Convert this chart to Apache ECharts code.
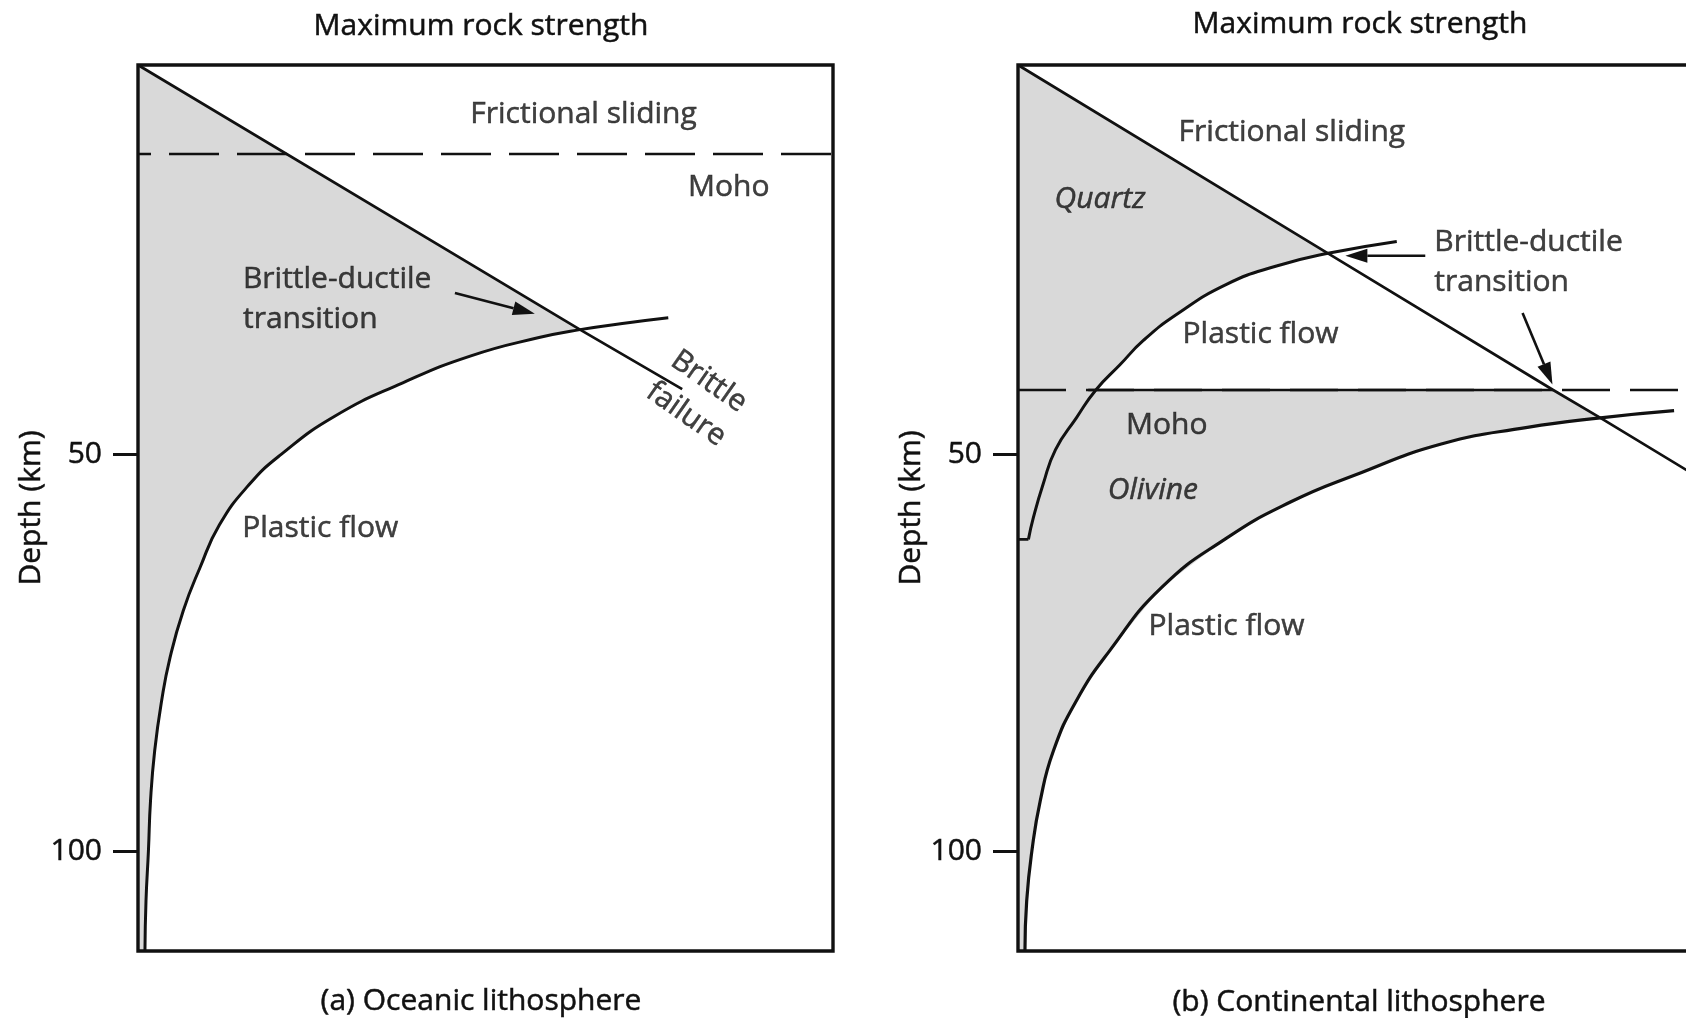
<!DOCTYPE html>
<html>
<head>
<meta charset="utf-8">
<title>Maximum rock strength vs depth</title>
<script src="https://cdn.jsdelivr.net/npm/echarts@6/dist/echarts.min.js"></script>
<style>
  html, body { margin: 0; padding: 0; background: #fff; }
  #chart { width: 1686px; height: 1018px; }
</style>
</head>
<body>
<div id="chart"></div>
<script>
// depth range shown (km) and labelled ticks
const depthTop = 1;
const depthBottom = 112.5;
const depthTicks = [50, 100];

// (a) oceanic lithosphere, points are [relative strength 0-100, depth km]
const oceanBrittle = [[0, 1], [63.6, 34.3], [78.3, 41.8]];
const oceanPlastic = [[76.3, 32.8], [70.8, 33.4], [63.6, 34.3], [57.7, 35.3], [47.9, 37.6], [38.1, 41.0],
  [28.3, 45.2], [20.6, 50.0], [15.9, 53.9], [11.7, 58.9], [8.9, 64.3], [6.5, 69.7], [4.6, 75.6],
  [3.4, 81.0], [2.4, 87.3], [1.8, 93.6], [1.5, 99.9], [1.15, 106.2], [1.0, 112.5]];
const oceanMoho = 12.2;

// (b) continental lithosphere
const contBrittle = [[0, 1], [44.6, 24.7], [77.0, 41.9], [83.8, 45.4], [100, 54.0]];
const contQuartz = [[54.5, 23.2], [44.6, 24.7], [37.2, 26.3], [30.0, 28.6], [22.8, 32.4], [18.0, 35.7],
  [14.7, 38.7], [11.2, 41.9], [8.4, 45.4], [5.4, 49.4], [3.6, 53.8], [2.2, 58.0], [1.5, 60.7]];
const contQuartzFoot = [[1.5, 60.7], [0, 60.7]];
const contOlivine = [[94.4, 44.5], [83.8, 45.4], [73.3, 46.6], [60.9, 48.7], [48.5, 52.6], [39.2, 56.0],
  [29.9, 60.6], [20.6, 66.8], [13.2, 74.7], [8.4, 81.0], [5.1, 87.3], [3.2, 93.6], [2.0, 99.9],
  [1.25, 106.2], [1.0, 112.5]];
const contMoho = 41.9;
const contMohoSolid = [10.1, 77.0];

const FONT = 'Open Sans';
const INK = '#111';
const GRAY = '#d9d9d9';

// shaded (strong) regions, built from the curves above
const oceanBDT = oceanBrittle[1];
const oceanShade = [[0, depthTop], oceanBDT]
  .concat(oceanPlastic.filter(p => p[1] > oceanBDT[1]))
  .concat([[0, depthBottom]]);

const quartzBDT = contBrittle[1], mohoCross = contBrittle[2], olivineBDT = contBrittle[3];
const contShade = [[0, depthTop], quartzBDT]
  .concat(contQuartz.filter(p => p[1] > quartzBDT[1] && p[1] <= contMoho))
  .concat([mohoCross, olivineBDT])
  .concat(contOlivine.filter(p => p[1] > olivineBDT[1]))
  .concat([[0, depthBottom]]);

// annotations (text and arrows)
const oceanText = [
  { value: [64.1, 7.2], text: 'Frictional sliding' },
  { value: [85.0, 16.4], text: 'Moho' },
  { value: [15.1, 30.55], text: 'Brittle-ductile\ntransition', align: 'left' },
  { value: [15.0, 59.3], text: 'Plastic flow', align: 'left' },
  { value: [80.5, 42.9], text: 'Brittle\nfailure', rotate: -35 }
];
const contText = [
  { value: [39.4, 9.5], text: 'Frictional sliding' },
  { value: [11.8, 17.9], text: 'Quartz', italic: true },
  { value: [59.9, 25.8], text: 'Brittle-ductile\ntransition', align: 'left' },
  { value: [34.9, 34.9], text: 'Plastic flow' },
  { value: [21.4, 46.4], text: 'Moho' },
  { value: [19.4, 54.6], text: 'Olivine', italic: true },
  { value: [30.0, 71.6], text: 'Plastic flow' }
];
const oceanArrows = [[45.6, 29.7, 57.1, 32.3]];
const contArrows = [[58.6, 25.0, 47.1, 25.0], [72.6, 32.2, 76.9, 41.2]];

const textBase = {
  fontFamily: FONT, fontSize: 30, color: INK,
  textBorderColor: INK, textBorderWidth: 0.5
};

function curve(idx, data, width, smooth) {
  return {
    type: 'line', xAxisIndex: idx, yAxisIndex: idx, data: data,
    smooth: smooth || false, symbol: 'none', silent: true, z: 3,
    lineStyle: { color: INK, width: width }
  };
}

// horizontal Moho line, dashed across the whole panel
function mohoDashed(idx, depth, dash, offset) {
  return {
    type: 'custom', xAxisIndex: idx, yAxisIndex: idx, data: [[0, depth, 100, depth]],
    encode: { x: [0, 2], y: [1, 3] }, silent: true, z: 3,
    renderItem: function (params, api) {
      const a = api.coord([api.value(0), api.value(1)]);
      const b = api.coord([api.value(2), api.value(3)]);
      return {
        type: 'line',
        shape: { x1: a[0], y1: a[1], x2: b[0], y2: b[1] },
        style: { stroke: INK, lineWidth: 2.7, lineDash: dash, lineDashOffset: offset }
      };
    }
  };
}

function shade(idx, poly) {
  return {
    type: 'custom', xAxisIndex: idx, yAxisIndex: idx, data: [[0, 0]], silent: true, z: 1,
    renderItem: function (params, api) {
      return {
        type: 'polygon',
        shape: { points: poly.map(p => api.coord(p)) },
        style: { fill: GRAY }
      };
    }
  };
}

function arrows(idx, list) {
  return {
    type: 'custom', xAxisIndex: idx, yAxisIndex: idx, data: list, silent: true, z: 4,
    encode: { x: [0, 2], y: [1, 3] },
    renderItem: function (params, api) {
      const a = api.coord([api.value(0), api.value(1)]);
      const b = api.coord([api.value(2), api.value(3)]);
      const ang = Math.atan2(b[1] - a[1], b[0] - a[0]);
      const L = 22, W = 7;
      const base = [b[0] - L * Math.cos(ang), b[1] - L * Math.sin(ang)];
      return {
        type: 'group',
        children: [
          { type: 'line', shape: { x1: a[0], y1: a[1], x2: base[0], y2: base[1] },
            style: { stroke: INK, lineWidth: 2.6 } },
          { type: 'polygon',
            shape: { points: [b,
              [base[0] + W * Math.sin(ang), base[1] - W * Math.cos(ang)],
              [base[0] - W * Math.sin(ang), base[1] + W * Math.cos(ang)]] },
            style: { fill: INK } }
        ]
      };
    }
  };
}

function texts(idx, list) {
  return {
    type: 'scatter', xAxisIndex: idx, yAxisIndex: idx, symbolSize: 0, silent: true, z: 6,
    data: list.map(t => ({
      value: t.value,
      label: Object.assign({
        show: true, position: 'inside', formatter: t.text,
        align: t.align || 'center', verticalAlign: 'middle',
        rotate: t.rotate || 0, lineHeight: 40,
        fontStyle: t.italic ? 'italic' : 'normal'
      }, textBase)
    }))
  };
}

function yAxisFor(idx) {
  return {
    type: 'value', gridIndex: idx, inverse: true, min: depthTop, max: depthBottom,
    name: 'Depth (km)', nameLocation: 'middle', nameGap: 76,
    nameTextStyle: textBase,
    axisLine: { show: false }, splitLine: { show: false },
    axisTick: { show: true, length: 25, customValues: depthTicks, lineStyle: { color: INK, width: 3 } },
    axisLabel: Object.assign({ show: true, margin: 36, customValues: depthTicks }, textBase)
  };
}

function titleAt(text, x, y) {
  return {
    text: text, left: x, top: y, textAlign: 'center', padding: 0,
    textStyle: Object.assign({ fontWeight: 'normal' }, textBase)
  };
}

function gridAt(x) {
  return {
    left: x, top: 65, width: 695, height: 886, outerBoundsMode: 'none', containLabel: false,
    show: true, borderColor: INK, borderWidth: 3.4, z: 5
  };
}

const chart = echarts.init(document.getElementById('chart'));
chart.setOption({
  animation: false,
  backgroundColor: '#fff',
  title: [
    titleAt('Maximum rock strength', 481, 11),
    titleAt('Maximum rock strength', 1360, 9),
    titleAt('(a) Oceanic lithosphere', 481, 986),
    titleAt('(b) Continental lithosphere', 1359, 987)
  ],
  grid: [gridAt(138), gridAt(1018)],
  xAxis: [
    { type: 'value', gridIndex: 0, min: 0, max: 100, show: false },
    { type: 'value', gridIndex: 1, min: 0, max: 100, show: false }
  ],
  yAxis: [yAxisFor(0), yAxisFor(1)],
  series: [
    shade(0, oceanShade),
    curve(0, oceanBrittle, 2.7),
    curve(0, oceanPlastic, 3, 0.5),
    mohoDashed(0, oceanMoho, [50, 18], 37),
    arrows(0, oceanArrows),
    texts(0, oceanText),

    shade(1, contShade),
    curve(1, contBrittle, 2.7),
    curve(1, contQuartz, 3, 0.5),
    curve(1, contQuartzFoot, 2.7),
    curve(1, contOlivine, 3.2, 0.5),
    mohoDashed(1, contMoho, [48, 20], 0),
    curve(1, [[contMohoSolid[0], contMoho], [contMohoSolid[1], contMoho]], 2.7),
    arrows(1, contArrows),
    texts(1, contText)
  ]
});
</script>
</body>
</html>
